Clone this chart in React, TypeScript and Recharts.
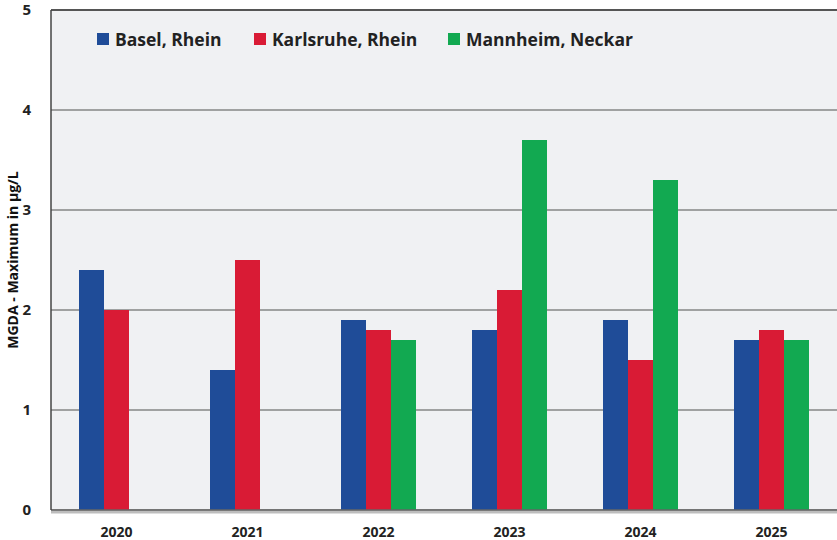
import React from "react";
import { BarChart, Bar, XAxis, YAxis, CartesianGrid, ReferenceLine } from "recharts";

const years = ["2020", "2021", "2022", "2023", "2024", "2025"];
const basel = [2.4, 1.4, 1.9, 1.8, 1.9, 1.7];
const karlsruhe = [2.0, 2.5, 1.8, 2.2, 1.5, 1.8];
const mannheim = [null, null, 1.7, 3.7, 3.3, 1.7];
const yTicks = [0, 1, 2, 3, 4, 5];
const seriesNames = ["Basel, Rhein", "Karlsruhe, Rhein", "Mannheim, Neckar"];
const colors = ["#1f4c98", "#d91b35", "#12a951"];

const data = years.map((y, i) => ({
  year: y,
  basel: basel[i],
  karlsruhe: karlsruhe[i],
  mannheim: mannheim[i],
}));

const FONT = "'Open Sans', 'DejaVu Sans', sans-serif";

const LegendOverlay = () => {
  const xs = [97, 254, 448];
  return (
    <>
      {seriesNames.map((n, i) => (
        <div
          key={n}
          style={{
            position: "absolute",
            left: xs[i],
            top: 27,
            height: 24,
            display: "flex",
            alignItems: "center",
            fontFamily: FONT,
            fontWeight: 700,
            fontSize: 17.5,
            color: "#222",
            whiteSpace: "nowrap",
          }}
        >
          <span style={{ display: "inline-block", width: 12, height: 12, background: colors[i], marginRight: 6 }} />
          {n}
        </div>
      ))}
    </>
  );
};

export default function App() {
  return (
    <div style={{ position: "absolute", left: 0, top: 0, width: 837, height: 540, background: "#fff" }}>
      <BarChart
        width={837}
        height={540}
        data={data}
        margin={{ top: 10, right: 0, bottom: 0, left: 0 }}
        barSize={25}
        barGap={0}
      >
        <CartesianGrid vertical={false} fill="#f0f1f3" stroke="#868686" strokeWidth={1.5} />
        <XAxis
          dataKey="year"
          height={30}
          tickLine={false}
          axisLine={false}
          tickMargin={11}
          tick={{ fontFamily: FONT, fontWeight: 700, fontSize: 14, fill: "#222" }}
        />
        <YAxis
          width={51}
          domain={[0, 5]}
          ticks={yTicks}
          tickLine={false}
          axisLine={{ stroke: "#444", strokeWidth: 1.5 }}
          tickMargin={14}
          tick={{ fontFamily: FONT, fontWeight: 700, fontSize: 15, fill: "#222" }}
          label={{
            value: "MGDA - Maximum in µg/L",
            angle: -90,
            position: "insideLeft",
            offset: 13,
            style: { fontFamily: FONT, fontWeight: 700, fontSize: 14, fill: "#111", textAnchor: "middle" },
          }}
        />
        <ReferenceLine y={5} stroke="#555" strokeWidth={2} />
        <ReferenceLine y={0} stroke="#bdbdbd" strokeWidth={3} transform="translate(0,2)" />
        <ReferenceLine y={0} stroke="#666" strokeWidth={1.5} />
        <Bar dataKey="basel" name={seriesNames[0]} fill={colors[0]} isAnimationActive={false} />
        <Bar dataKey="karlsruhe" name={seriesNames[1]} fill={colors[1]} isAnimationActive={false} />
        <Bar dataKey="mannheim" name={seriesNames[2]} fill={colors[2]} isAnimationActive={false} />
      </BarChart>
      <LegendOverlay />
    </div>
  );
}
